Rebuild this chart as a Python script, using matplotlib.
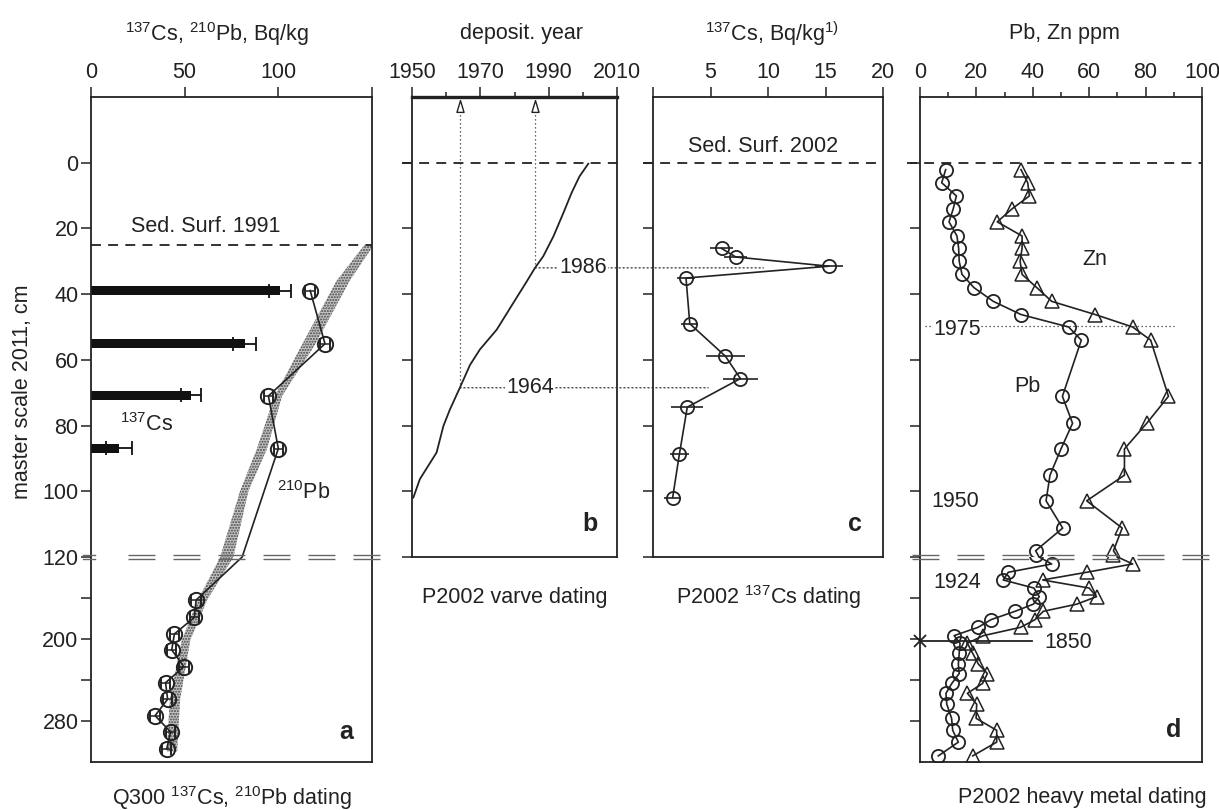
import matplotlib
matplotlib.use("Agg")
import matplotlib.pyplot as plt
from matplotlib.lines import Line2D
from matplotlib.patches import ConnectionPatch
from matplotlib.path import Path
from matplotlib.transforms import Affine2D

FS = 15.5
plt.rcParams.update(
    {
        "font.family": ["Liberation Sans", "DejaVu Sans"],
        "font.size": FS,
        "mathtext.fontset": "custom",
        "mathtext.rm": "Liberation Sans",
        "mathtext.it": "Liberation Sans:italic",
        "mathtext.bf": "Liberation Sans:bold",
        "mathtext.default": "regular",
        "axes.linewidth": 1.3,
        "hatch.linewidth": 1.0,
    }
)

INK = "#222222"
W, H = 1219, 810

# --- panel a: Q300 core, 137Cs bars and 210Pb profile (depth in cm) ---
cs_depth = [38.9, 55.1, 70.8, 86.9]
cs_value = [101, 82, 53.5, 15]
cs_err = [6, 6, 5.3, 7]

pb_depth = [38.9, 55.1, 71.0, 87.0, 162, 178.9, 195.1, 210.7, 227, 242.6, 258.8, 274.8, 290.7, 307.3]
pb_value = [117, 124.9, 94.7, 100, 56.1, 55.2, 44.5, 43.1, 49.6, 39.8, 40.9, 34.2, 42.5, 40.4]
pb_err = [2.5, 2.5, 2.5, 2.5, 2.5, 2.5, 2.5, 2.5, 2.5, 2.5, 2.5, 2.5, 2.5, 2.5]

band_depth = [25, 36, 55, 71, 87, 100, 120, 162, 201, 260, 310]
band_lo = [146, 131, 113, 98, 88.6, 79.5, 69, 57, 48.5, 42, 40.5]
band_hi = [151, 138, 120, 102, 94, 84, 76, 62, 53, 47.5, 46]

# --- panel b: P2002 varve chronology ---
varve_year = [2001.6, 1999, 1996.7, 1994.3, 1991.4, 1988.4, 1986, 1983.6, 1979.7,
              1974.8, 1969.9, 1967, 1964, 1961.1, 1959.2, 1957.2, 1952.3, 1950.4]
varve_depth = [0.3, 4.2, 9.2, 15.3, 22.4, 28.5, 32.0, 36.1, 42.6,
               50.8, 56.8, 61.5, 68.5, 75.1, 80.1, 88.2, 96.3, 101.9]

# --- panel c: P2002 137Cs ---
c_depth = [26.1, 28.7, 31.5, 35.1, 49.0, 58.9, 65.7, 74.4, 88.8, 101.9]
c_value = [5.97, 7.2, 15.3, 2.87, 3.2, 6.3, 7.6, 2.98, 2.29, 1.71]
c_err = [1.0, 1.0, 1.2, 0.8, 0.75, 1.67, 1.55, 1.4, 0.85, 0.72]

# --- panel d: P2002 heavy metals ---
d_depth = [2.1, 6.1, 10.1, 14.0, 18.0, 22.3, 26.0, 30.0, 34.0, 38.0, 42.2, 46.2, 50.0, 54.0,
           71.1, 79.3, 87.1, 95.1, 102.9, 111.2, 118.1, 126.8, 134.9, 142.4, 150.3, 158.7,
           166.0, 173.0, 181.1, 188.6, 196.7, 204.2, 214.0, 224.5, 233.7, 243.3, 253.0,
           263.6, 277.4, 289.1, 300.6, 314.0]
pb_ppm = [9.1, 7.7, 12.9, 11.8, 10.3, 13.1, 13.7, 13.9, 14.9, 19.1, 26.0, 35.8, 52.7, 57.2,
          50.5, 54.1, 50.0, 46.1, 44.7, 50.6, 41.0, 46.7, 31.3, 29.5, 40.4, 42.3,
          40.2, 33.7, 25.2, 20.6, 12.1, 14.2, 13.9, 13.6, 13.9, 11.3, 9.2,
          9.5, 11.2, 11.6, 13.6, 6.5]
zn_ppm = [35.8, 38.2, 38.8, 32.7, 27.4, 36.2, 36.2, 35.5, 36.2, 41.4, 46.7, 62.1, 75.4, 81.8,
          88.1, 80.4, 72.5, 72.5, 59.1, 71.7, 68.6, 75.4, 59.1, 43.5, 60.0, 62.6,
          55.6, 43.7, 40.8, 35.7, 22.5, 16.8, 18.7, 20.7, 23.9, 22.2, 16.8,
          20.1, 19.9, 27.2, 27.2, 18.7]

SURFACE_Q300 = 25
SURFACE_P2002 = 0
YEAR_1986 = (1986, 32.0, 9.6)
YEAR_1964 = (1964, 68.5, 4.8)
DEPTH_1975 = 49.8
DEPTH_1850 = 202

ARROW = Path([(0, 1), (-0.6, -1), (0.6, -1), (0, 1)],
             [Path.MOVETO, Path.LINETO, Path.LINETO, Path.CLOSEPOLY])


def frame(left, right, top, bottom):
    return [left / W, 1 - bottom / H, (right - left) / W, (bottom - top) / H]


def style_upper(ax, xlim, xticks, xlabels, minor=None, closed=True, ylabels=False):
    ax.set_xlim(*xlim)
    ax.set_ylim(120, -20)
    ax.xaxis.tick_top()
    ax.set_xticks(xticks)
    ax.set_xticklabels(xlabels)
    if minor is not None:
        ax.set_xticks(minor, minor=True)
    ax.set_yticks([0, 20, 40, 60, 80, 100, 120])
    ax.tick_params(axis="x", which="major", direction="out", length=7, width=1.1,
                   pad=3, colors=INK, labelsize=FS)
    ax.tick_params(axis="x", which="minor", direction="out", length=3.5, width=1.1, colors=INK)
    ax.tick_params(axis="y", direction="out", length=7, width=1.1, pad=2,
                   colors=INK, labelleft=ylabels, labelsize=FS)
    for spine in ax.spines.values():
        spine.set_color(INK)
    if not closed:
        ax.spines["bottom"].set_visible(False)


def style_lower(ax, xlim, ylabels=False):
    ax.set_xlim(*xlim)
    ax.set_ylim(320, 120)
    ax.set_yticks([160, 200, 240, 280])
    ax.set_yticklabels(["", "200", "", "280"] if ylabels else ["", "", "", ""])
    ax.tick_params(axis="x", which="both", top=False, bottom=False, labelbottom=False)
    ax.tick_params(axis="y", direction="out", length=7, width=1.1, pad=2,
                   colors=INK, labelsize=FS)
    ax.spines["top"].set_visible(False)
    for spine in ax.spines.values():
        spine.set_color(INK)


fig = plt.figure(figsize=(W / 100, H / 100), dpi=100)
px = Affine2D().scale(1 / W, -1 / H).translate(0, 1) + fig.transFigure

ax_a = fig.add_axes(frame(91, 372, 97, 557))
ax_a2 = fig.add_axes(frame(91, 372, 557, 762))
ax_b = fig.add_axes(frame(412, 617, 97, 557))
ax_c = fig.add_axes(frame(653, 883, 97, 557))
ax_d = fig.add_axes(frame(920, 1202, 97, 557))
ax_d2 = fig.add_axes(frame(920, 1202, 557, 762))

style_upper(ax_a, (0, 150), [0, 50, 100, 150], ["0", "50", "100", ""], closed=False, ylabels=True)
style_lower(ax_a2, (0, 150), ylabels=True)
style_upper(ax_b, (1950, 2010), [1950, 1970, 1990, 2010], ["1950", "1970", "1990", "2010"],
            minor=[1960, 1980, 2000])
ax_b.spines["top"].set_linewidth(2.4)
style_upper(ax_c, (0, 20), [0, 5, 10, 15, 20], ["", "5", "10", "15", "20"])
style_upper(ax_d, (0, 100), [0, 20, 40, 60, 80, 100], ["0", "20", "40", "60", "80", "100"],
            minor=[10, 30, 50, 70, 90], closed=False)
style_lower(ax_d2, (0, 100))

dot_style = dict(color="#333333", lw=0.9, linestyle=(0, (1, 2.2)))
dash_style = dict(color=INK, lw=1.3, linestyle=(0, (5.5, 4)))

# panel a
for ax in (ax_a, ax_a2):
    ax.fill_betweenx(band_depth, band_lo, band_hi, facecolor="#c4c4c4",
                     edgecolor="#444444", hatch="......", linewidth=0, zorder=1)
    ax.errorbar(pb_value, pb_depth, xerr=pb_err, color=INK, lw=1.2, marker="o", ms=11,
                mfc="none", mec=INK, mew=1.4, capsize=4, elinewidth=1.1, zorder=3)
ax_a.barh(cs_depth, cs_value, height=2.6, color="#111111", zorder=2)
ax_a.errorbar(cs_value, cs_depth, xerr=cs_err, fmt="none", ecolor="#111111",
              elinewidth=1.3, capsize=5, capthick=1.3, zorder=2)
ax_a.plot([0, 150], [SURFACE_Q300, SURFACE_Q300], **dash_style)
ax_a.text(61, 19.5, "Sed. Surf. 1991", ha="center", va="center", color=INK)
ax_a.text(30, 79.7, r"$^{137}$Cs", ha="center", va="center", color=INK)
ax_a.text(113.7, 100.4, r"$^{210}$Pb", ha="center", va="center", color=INK)
ax_a2.text(136, 290.4, "a", ha="center", va="center", fontsize=18, fontweight="bold", color=INK)

# panel b
ax_b.plot(varve_year, varve_depth, color=INK, lw=1.3)
for year, depth, _ in (YEAR_1986, YEAR_1964):
    ax_b.plot([year, year], [depth, -15], **dot_style)
    ax_b.plot([year], [-17.4], linestyle="none", marker=ARROW,
              ms=8.5, mfc="white", mec=INK, mew=1.0, clip_on=False, zorder=4)
ax_b.plot([-0.05, 1], [SURFACE_P2002, SURFACE_P2002], transform=ax_b.get_yaxis_transform(),
          clip_on=False, **dash_style)
ax_b.text(2002, 110, "b", ha="center", va="center", fontsize=18, fontweight="bold", color=INK)

# panel c
ax_c.errorbar(c_value, c_depth, xerr=c_err, color=INK, lw=1.2, marker="o", ms=9.5,
              mfc="none", mec=INK, mew=1.3, capsize=0, elinewidth=1.2)
ax_c.plot([-0.045, 1], [SURFACE_P2002, SURFACE_P2002], transform=ax_c.get_yaxis_transform(),
          clip_on=False, **dash_style)
ax_c.text(9.6, -5, "Sed. Surf. 2002", ha="center", va="center", color=INK)
ax_c.text(17.6, 110, "c", ha="center", va="center", fontsize=18, fontweight="bold", color=INK)

# connections between b and c
for (year, depth, cs_end), label_x in ((YEAR_1986, 2000), (YEAR_1964, 1984.5)):
    con = ConnectionPatch(xyA=(year, depth), coordsA=ax_b.transData,
                          xyB=(cs_end, depth), coordsB=ax_c.transData, **dot_style)
    fig.add_artist(con)
    fig.text(label_x, depth, str(year), transform=ax_b.transData, ha="center", va="center",
             color=INK, zorder=5,
             bbox=dict(facecolor="white", edgecolor="none", pad=1.0))

# panel d
for ax in (ax_d, ax_d2):
    ax.plot(zn_ppm, d_depth, color=INK, lw=1.2, marker="^", ms=10, mfc="none",
            mec=INK, mew=1.1, zorder=3)
    ax.plot(pb_ppm, d_depth, color=INK, lw=1.2, marker="o", ms=9.5, mfc="none",
            mec=INK, mew=1.3, zorder=3)
ax_d.plot([-0.045, 1], [SURFACE_P2002, SURFACE_P2002], transform=ax_d.get_yaxis_transform(),
          clip_on=False, **dash_style)
ax_d.plot([1.8, 90], [DEPTH_1975, DEPTH_1975], zorder=1, **dot_style)
ax_d.text(13.1, 50.8, "1975", ha="center", va="center", color=INK, zorder=2,
          bbox=dict(facecolor="white", edgecolor="none", pad=0.5))
ax_d.text(61.9, 29.5, "Zn", ha="center", va="center", color=INK)
ax_d.text(37.9, 68, "Pb", ha="center", va="center", color=INK)
ax_d.text(12.6, 103, "1950", ha="center", va="center", color=INK)
ax_d2.text(13.3, 145, "1924", ha="center", va="center", color=INK)
ax_d2.plot([0, 39.6], [DEPTH_1850, DEPTH_1850], color=INK, lw=1.3, zorder=4)
ax_d2.plot([0], [DEPTH_1850], marker="x", ms=9, mew=1.3, color=INK, clip_on=False, zorder=5)
ax_d2.text(52.7, 203.5, "1850", ha="center", va="center", color=INK)
ax_d2.text(90, 288.8, "d", ha="center", va="center", fontsize=18, fontweight="bold", color=INK)

# scale breaks at 120 cm
break_style = dict(color="#666666", lw=1.0, transform=px)
for y in (555, 559):
    fig.add_artist(Line2D([83, 95], [y, y], **break_style))
    fig.add_artist(Line2D([128, 382], [y, y], linestyle=(0, (19.4, 13)), **break_style))
    fig.add_artist(Line2D([912, 1210], [y, y], linestyle=(0, (19.4, 13)), **break_style))

# axis titles
fig.text(217 / W, 1 - 34 / H, r"$^{137}$Cs, $^{210}$Pb, Bq/kg", ha="center", va="center", color=INK)
fig.text(521 / W, 1 - 34 / H, "deposit. year", ha="center", va="center", color=INK)
fig.text(772 / W, 1 - 34 / H, r"$^{137}$Cs, Bq/kg$^{1)}$", ha="center", va="center", color=INK)
fig.text(1064 / W, 1 - 34 / H, "Pb, Zn ppm", ha="center", va="center", color=INK)
fig.text(23 / W, 1 - 392 / H, "master scale 2011, cm", rotation=90, ha="center", va="center",
         color=INK)

fig.text(232 / W, 1 - 798 / H, r"Q300 $^{137}$Cs, $^{210}$Pb dating", ha="center", va="center",
         color=INK)
fig.text(515 / W, 1 - 597 / H, "P2002 varve dating", ha="center", va="center", color=INK)
fig.text(769 / W, 1 - 597 / H, r"P2002 $^{137}$Cs dating", ha="center", va="center", color=INK)
fig.text(1082 / W, 1 - 798 / H, "P2002 heavy metal dating", ha="center", va="center", color=INK)

fig.savefig("out.png", dpi=100, facecolor="white")
